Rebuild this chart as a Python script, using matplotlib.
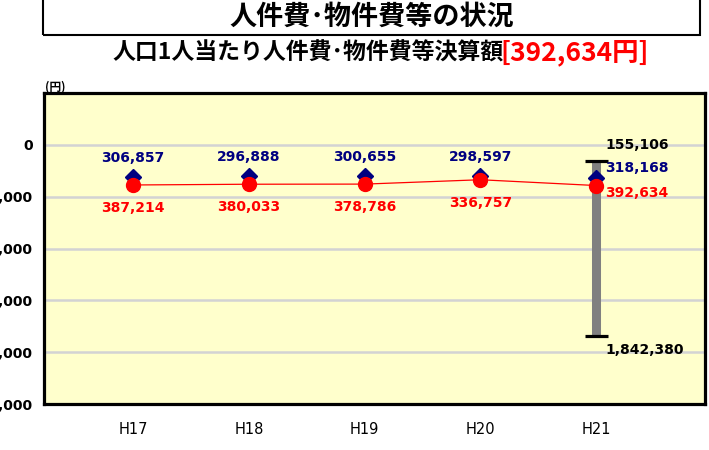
import matplotlib.pyplot as plt
from matplotlib.patches import Rectangle

plt.rcParams['font.family'] = ['Noto Sans CJK JP', 'DejaVu Sans']

# data
cats = ['H17', 'H18', 'H19', 'H20', 'H21']
own_vals = [387214, 380033, 378786, 336757, 392634]   # 当該団体
avg_vals = [306857, 296888, 300655, 298597, 318168]   # 類似団体平均
rng_min = 155106
rng_max = 1842380
yticks = [0, 500000, 1000000, 1500000, 2000000, 2500000]

W, H = 709, 450
fig = plt.figure(figsize=(W / 100, H / 100), dpi=100)

def fx(px):
    return px / W

def fy(py):
    return 1 - py / H

# title box
fig.patches.append(Rectangle((fx(43), fy(35)), fx(700) - fx(43), 0.2, transform=fig.transFigure,
                             fill=False, edgecolor='black', linewidth=1.5))
fig.text(fx(372), fy(17), '人件費･物件費等の状況', ha='center', va='center',
         fontsize=19.5, fontweight='bold')
fig.text(fx(504), fy(53), '人口1人当たり人件費･物件費等決算額', ha='right', va='center',
         fontsize=16.5, fontweight='bold')
fig.text(fx(500), fy(53), '[392,634円]', ha='left', va='center',
         fontsize=19, fontweight='bold', color='red')
fig.text(fx(45), fy(87), '(円)', ha='left', va='center', fontsize=8.5, fontweight='bold')

ax = fig.add_axes([fx(44), fy(404), fx(705) - fx(44), fy(93) - fy(404)])
ax.set_facecolor('#FFFFCC')
x = list(range(len(cats)))

for v in yticks[:-1]:
    ax.axhline(v, color='#D3D3D3', linewidth=1.8, zorder=1)

# range bar for H21
ax.vlines(x[-1], rng_min, rng_max, color='#808080', linewidth=6.5, zorder=2)
ax.hlines([rng_min, rng_max], x[-1] - 0.1, x[-1] + 0.1, color='black', linewidth=2.3, zorder=3)

ax.plot(x, avg_vals, linestyle='none', marker='D', markersize=8, color='#000080', zorder=4)
ax.plot(x, own_vals, color='red', linewidth=0.9, marker='o', markersize=10, zorder=5)

num_font = dict(family='DejaVu Sans', fontweight='bold', fontsize=10)
for i in x[:-1]:
    ax.annotate(f'{avg_vals[i]:,}', (i, avg_vals[i]), xytext=(0, 13.5), textcoords='offset points',
                ha='center', va='center', color='#000080', **num_font)
    ax.annotate(f'{own_vals[i]:,}', (i, own_vals[i]), xytext=(0, -16.5), textcoords='offset points',
                ha='center', va='center', color='red', **num_font)

i = x[-1]
ax.annotate(f'{rng_min:,}', (i, rng_min), xytext=(6.5, 11.5), textcoords='offset points',
            ha='left', va='center', color='black', **num_font)
ax.annotate(f'{avg_vals[i]:,}', (i, avg_vals[i]), xytext=(6.5, 7), textcoords='offset points',
            ha='left', va='center', color='#000080', **num_font)
ax.annotate(f'{own_vals[i]:,}', (i, own_vals[i]), xytext=(6.5, -5.5), textcoords='offset points',
            ha='left', va='center', color='red', **num_font)
ax.annotate(f'{rng_max:,}', (i, rng_max), xytext=(6.5, -10), textcoords='offset points',
            ha='left', va='center', color='black', **num_font)

ax.set_xlim(-0.77, 4.94)
ax.set_ylim(2500000, -500000)
ax.set_xticks(x)
ax.set_xticklabels(cats, family='DejaVu Sans', fontsize=10.5)
ax.set_yticks(yticks)
ax.set_yticklabels([f'{v:,}' for v in yticks], family='DejaVu Sans', fontsize=10, fontweight='bold')
ax.tick_params(axis='both', length=0)
ax.tick_params(axis='x', pad=13)
ax.tick_params(axis='y', pad=8)
for s in ax.spines.values():
    s.set_linewidth(2.3)

fig.savefig('out.png', dpi=100)
